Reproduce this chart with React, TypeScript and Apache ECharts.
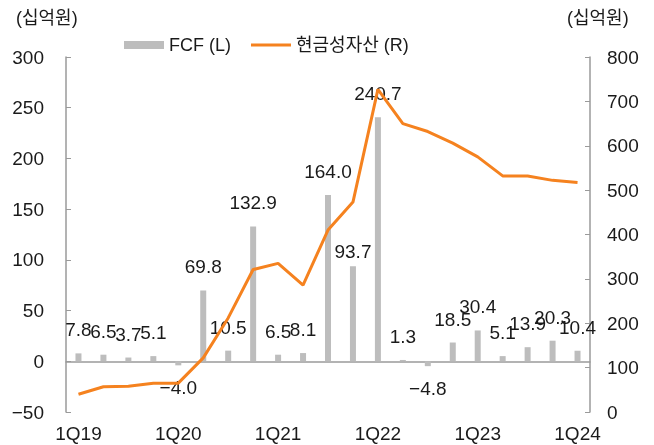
import React, { useEffect, useRef } from "react";
import * as echarts from "echarts";

const categories = [
  "1Q19", "2Q19", "3Q19", "4Q19",
  "1Q20", "2Q20", "3Q20", "4Q20",
  "1Q21", "2Q21", "3Q21", "4Q21",
  "1Q22", "2Q22", "3Q22", "4Q22",
  "1Q23", "2Q23", "3Q23", "4Q23",
  "1Q24",
];
const fcf = [7.8, 6.5, 3.7, 5.1, -4.0, 69.8, 10.5, 132.9, 6.5, 8.1, 164.0, 93.7, 240.7, 1.3, -4.8, 18.5, 30.4, 5.1, 13.9, 20.3, 10.4];
const cash = [40, 57, 58, 65, 65, 122, 212, 321, 335, 286, 410, 473, 727, 650, 632, 606, 575, 532, 532, 522, 517];
const leftTicks = { min: -50, max: 300, interval: 50 };
const rightTicks = { min: 0, max: 800, interval: 100 };
const unitLabel = "(십억원)";
const seriesNames = ["FCF (L)", "현금성자산 (R)"];

const FONT = '"Liberation Sans", "Noto Sans CJK KR", sans-serif';
const TEXT = "#1a1a1a";
const AXIS = "#9a9a9a";
const BAR = "#bdbdbd";
const ORANGE = "#f5821f";
const minus = (v: number | string) => String(v).replace("-", "\u2212");

export default function App() {
  const ref = useRef<HTMLDivElement>(null);
  useEffect(() => {
    if (!ref.current) return;
    const chart = echarts.init(ref.current, undefined, { renderer: "svg" });
    const barData = fcf.map((v, i) => ({
      value: v,
      label:
        v < 0
          ? { position: "bottom", distance: 13 }
          : { position: "top", distance: categories[i] === "4Q21" ? 5 : 14 },
    }));
    chart.setOption({
      animation: false,
      textStyle: { fontFamily: FONT },
      grid: { left: 66, right: 64, top: 57, bottom: 33, containLabel: false, outerBoundsMode: "none" },
      legend: {
        left: 119,
        top: 31,
        itemWidth: 40,
        itemHeight: 8,
        itemGap: 20,
        symbolKeepAspect: true,
        textStyle: { fontSize: 18, color: TEXT, fontFamily: FONT },
        data: [
          { name: seriesNames[0], icon: "rect" },
          { name: seriesNames[1], icon: "path://M0,0 H40 V3 H0 Z" },
        ],
      },
      graphic: [
        { type: "text", left: 16, top: 9, style: { text: unitLabel, fontSize: 18, fill: TEXT, fontFamily: FONT } },
        { type: "text", left: 567, top: 9, style: { text: unitLabel, fontSize: 18, fill: TEXT, fontFamily: FONT } },
      ],
      xAxis: {
        type: "category",
        data: categories,
        boundaryGap: true,
        axisLine: { onZero: true, onZeroAxisIndex: 0, lineStyle: { color: AXIS, width: 1.5 } },
        axisTick: { inside: true, length: 5, interval: 0, lineStyle: { color: AXIS } },
        axisLabel: { interval: 3, margin: 12, fontSize: 19, color: TEXT, fontFamily: FONT },
        splitLine: { show: false },
      },
      yAxis: [
        {
          type: "value",
          min: leftTicks.min,
          max: leftTicks.max,
          interval: leftTicks.interval,
          axisLine: { show: true, lineStyle: { color: AXIS, width: 1.5 } },
          axisTick: { show: true, inside: true, length: 5, lineStyle: { color: AXIS } },
          axisLabel: { margin: 22, fontSize: 19, color: TEXT, fontFamily: FONT, formatter: (v: number) => minus(v) },
          splitLine: { show: false },
        },
        {
          type: "value",
          position: "right",
          min: rightTicks.min,
          max: rightTicks.max,
          interval: rightTicks.interval,
          axisLine: { show: true, lineStyle: { color: AXIS, width: 1.5 } },
          axisTick: { show: true, inside: true, length: 5, lineStyle: { color: AXIS } },
          axisLabel: { margin: 17, fontSize: 19, color: TEXT, fontFamily: FONT },
          splitLine: { show: false },
        },
      ],
      series: [
        {
          name: seriesNames[0],
          type: "bar",
          yAxisIndex: 0,
          barWidth: 6,
          itemStyle: { color: BAR },
          data: barData,
          label: {
            show: true,
            fontSize: 19,
            color: TEXT,
            fontFamily: FONT,
            formatter: (p: any) => minus(Number(p.value).toFixed(1)),
          },
          z: 2,
        },
        {
          name: seriesNames[1],
          type: "line",
          yAxisIndex: 1,
          data: cash,
          symbol: "none",
          showSymbol: false,
          lineStyle: { color: ORANGE, width: 3 },
          itemStyle: { color: ORANGE },
          z: 3,
        },
      ],
    });
    return () => chart.dispose();
  }, []);
  return <div ref={ref} style={{ position: "fixed", left: 0, top: 0, width: 654, height: 445 }} />;
}
